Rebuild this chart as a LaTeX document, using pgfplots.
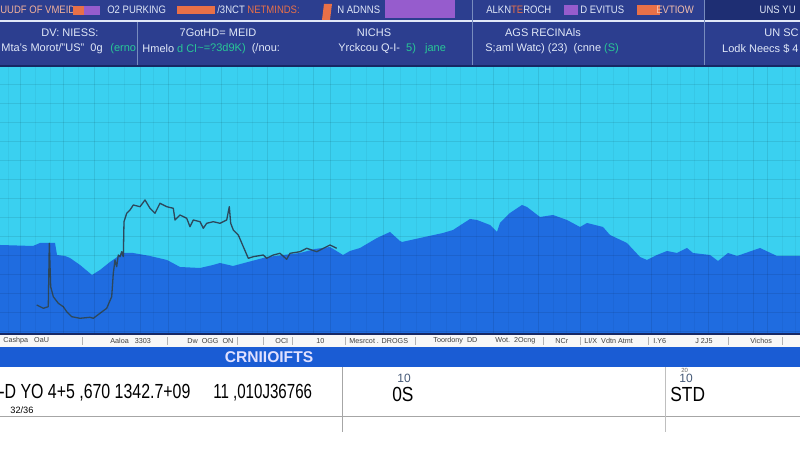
\documentclass[border=0pt]{standalone}
\usepackage{fontspec}
\setmainfont{Liberation Sans}
\usepackage{pgfplots}
\pgfplotsset{compat=1.18}

\definecolor{navy}{RGB}{44,62,143}
\definecolor{navyd}{RGB}{30,46,115}
\definecolor{navyl}{RGB}{22,40,100}
\definecolor{skyc}{RGB}{58,208,240}
\definecolor{areac}{RGB}{31,108,224}
\definecolor{barc}{RGB}{26,92,212}
\definecolor{linec}{RGB}{45,72,92}
\definecolor{orangec}{RGB}{232,112,72}
\definecolor{purplec}{RGB}{150,92,205}
\definecolor{greenc}{RGB}{40,200,150}
\definecolor{txtc}{RGB}{225,232,248}
\definecolor{sepc}{RGB}{120,140,190}
\definecolor{slateblue}{RGB}{70,90,120}

\begin{document}
\begin{tikzpicture}
\path[use as bounding box] (0,0) rectangle (400pt,227pt);

% header, in pixel units of the 800x454 picture
\begin{scope}[x=0.5pt,y=-0.5pt,yshift=227pt]
  \fill[white] (0,333) rectangle (800,454);
  \fill[navy] (0,0) rectangle (800,20);
  \fill[navyd] (705,0) rectangle (800,20);
  \fill[txtc] (0,20) rectangle (800,22);
  \fill[navy] (0,22) rectangle (800,65);
  \fill[navyl] (0,65) rectangle (800,67);

  \begin{scope}[every node/.style={inner sep=0pt,text=txtc,xscale=0.88,font=\fontsize{5.4}{6}\selectfont}]
    % legend row
    \node[anchor=west,text=orangec!55!white] at (0,10) {UUDF OF VMEID};
    \fill[orangec] (73,6) rectangle (84,15);
    \fill[purplec] (84,6) rectangle (100,15);
    \node[anchor=west] at (107,10) {O2 PURKING};
    \fill[orangec] (177,6) rectangle (215,14);
    \node[anchor=west] at (217,10) {/3NCT \textcolor{orangec}{NETMINDS:}};
    \fill[orangec] (324,4) -- (332,4) -- (330,20) -- (322,20) -- cycle;
    \node[anchor=west] at (337,10) {N ADNNS};
    \fill[purplec] (385,0) rectangle (455,18);
    \node[anchor=west] at (486,10) {ALKN\textcolor{orangec}{TE}ROCH};
    \fill[purplec] (564,5) rectangle (578,15);
    \node[anchor=west] at (580,10) {D EVITUS};
    \fill[orangec] (637,5) rectangle (660,15);
    \node[anchor=west,text=orangec!45!white] at (656,10) {EVTIOW};
    \node[anchor=east] at (796,10) {UNS YU};
  \end{scope}
  \begin{scope}[every node/.style={inner sep=0pt,text=txtc,font=\fontsize{5.5}{6}\selectfont}]
    % panel row
    \node at (70,33) {DV: NIESS:};
    \node[anchor=west] at (1,49) {Mta's Morot/"US"\ \ 0g};
    \node[anchor=west,text=greenc] at (110,49) {(erno};
    \node at (218,33) {7GotHD= MEID};
    \node[anchor=west] at (142,49) {Hmelo \textcolor{greenc}{d Cl}};
    \node[anchor=west] at (197,49) {\textcolor{greenc}{\textasciitilde=?3d9K)}\ \ (/nou:};
    \node at (374,33) {NICHS};
    \node[anchor=west] at (338,49) {Yrckcou Q-I-\ \ \textcolor{greenc}{5)}\ \ \ \textcolor{greenc}{jane}};
    \node at (543,33) {AGS RECINAls};
    \node[anchor=west] at (485,49) {S;aml Watc) (23) \ (cnne \textcolor{greenc}{(S)}};
    \node[anchor=east] at (799,33) {UN SC};
    \node[anchor=east] at (799,49) {Lodk Neecs \$ 4};
  \end{scope}
  \foreach \d in {472,704} \draw[sepc,line width=0.5pt] (\d,0) -- (\d,65);
  \draw[sepc,line width=0.5pt] (137,22) -- (137,65);
\end{scope}

\begin{axis}[at={(0pt,60.5pt)}, anchor=south west,
  width=400pt, height=133pt, scale only axis,
  xmin=0, xmax=800, ymin=0, ymax=266,
  axis line style={draw=none},
  axis background/.style={fill=skyc},
  axis on top,
  xtick={20,63,94,140,168,221,267,313,330,383,493,538,580,651,708,753,767},
  minor xtick={8,35,50,78,108,124,153,185,200,237,252,283,298,350,366,400,416,430,446,460,476,508,523,553,566,597,613,628,667,680,694,722,737,782,795},
  ytick={2,21,...,249},
  xticklabels={}, yticklabels={},
  tick style={draw=none},
  major tick length=0pt, minor tick length=0pt,
  xmajorgrids, xminorgrids, ymajorgrids,
  major grid style={draw=black,opacity=0.085,line width=0.45pt},
  minor grid style={draw=black,opacity=0.04,line width=0.35pt}]

% blue area
\addplot[fill=areac, draw=none] coordinates {
(0,88) (33,87) (40,90) (55,90) (57,78) (65,77) (70,75) (80,68) (92,58)
(100,63) (110,71) (123,80) (133,80) (150,77) (167,73) (180,66) (200,65)
(213,68) (220,70) (233,67) (248,71) (267,76) (300,80) (315,84) (330,86)
(343,78) (350,82) (360,85) (377,95) (390,101) (400,92) (402,91) (420,95)
(443,100) (453,103) (470,114) (477,113) (490,108) (497,101) (500,110)
(510,120) (522,128) (527,126) (540,116) (553,118) (567,113) (580,106)
(587,110) (603,106) (610,98) (627,90) (640,76) (647,73) (657,78) (667,82)
(677,80) (687,85) (693,80) (710,78) (718,72) (728,80) (737,77) (760,85)
(777,77) (800,77)
} \closedcycle;

% dark line
\addplot[linec, line width=0.65pt, line join=round] coordinates {
(36.7,28) (43.3,24.7) (48.3,26.3) (49.3,89.7) (50.7,46.3) (53.3,36.3)
(58.3,29.7) (63.3,26.3) (66.7,21.3) (71.7,16.3) (80,14.7) (90,15.7)
(93.3,14.7) (100,19.7) (106.7,24.7) (111.7,36.3) (113.3,59.7) (115,73)
(116.7,66.3) (118.3,78) (120,76.3) (121.7,81.3) (123.3,76.3) (124,111.3)
(126.7,119.7) (130,123) (133.3,128) (140,126.3) (145,133) (150,124.7)
(155,119.7) (160,129.7) (166.7,126.3) (173.3,124.7) (175,113) (180,118)
(186.7,114.7) (190,106.3) (193.3,113) (200,111.3) (203.3,104.7)
(206.7,109.7) (213.3,111.3) (220,109.7) (226.7,113) (229.3,126.3)
(230.7,109.7) (233.3,103) (238.3,98) (243.3,86.3) (248.3,74.7)
(253.3,76.3) (263.3,78) (266.7,74.7) (273.3,78) (280,79.7) (286.7,73.7)
(290,79.7) (300,81.3) (306.7,84.7) (316.7,81.3) (330,88) (336.7,84.7)
};
\end{axis}

% footer, in pixel units
\begin{scope}[x=0.5pt,y=-0.5pt,yshift=227pt]
  \fill[navyl] (0,333) rectangle (800,335);
  \fill[gray!6] (0,335) rectangle (800,347);
  \fill[barc] (0,347) rectangle (800,367);
  \begin{scope}[every node/.style={inner sep=0pt,text=black!75,font=\fontsize{3.6}{4}\selectfont}]
    \node[anchor=west] at (3,341) {Cashpa\ \ \ OaU};
    \node[anchor=west] at (110,341) {Aaloa\ \ \ 3303};
    \node[anchor=west] at (187,341) {Dw\ \ OGG\ \ ON};
    \node[anchor=west] at (275,341) {OCI};
    \node[anchor=west] at (316,341) {10};
    \node[anchor=west] at (349,341) {Mesrcot . DROGS};
    \node[anchor=west] at (433,341) {Toordony\ \ DD};
    \node[anchor=west] at (495,341) {Wot.\ \ 2Ocng};
    \node[anchor=west] at (555,341) {NCr};
    \node[anchor=west] at (584,341) {LI/X\ \ Vdtn Atmt};
    \node[anchor=west] at (653,341) {I.Y6};
    \node[anchor=west] at (695,341) {J 2J5};
    \node[anchor=west] at (750,341) {Vichos};
  \end{scope}
  \foreach \s in {82,167,237,263,292,345,415,543,580,648,728,782}
    \draw[gray!60,line width=0.3pt] (\s,337) -- (\s,345);
  \node[inner sep=0pt,text=blue!12!white,font=\fontsize{7.8}{8}\selectfont\bfseries] at (269,357) {CRNIIOIFTS};

  \draw[gray!70,line width=0.5pt] (0,417) -- (800,417);
  \draw[gray!70,line width=0.5pt] (342,367) -- (342,432);
  \draw[gray!50,line width=0.5pt] (665,367) -- (665,432);

  \node[anchor=west,inner sep=0pt,xscale=0.78,font=\fontsize{10.2}{11}\selectfont] at (-1,393) {-D YO 4+5 ,670 1342.7+09};
  \node[anchor=west,inner sep=0pt,font=\fontsize{4.6}{5}\selectfont\rmfamily] at (10,410) {32/36};
  \node[anchor=west,inner sep=0pt,xscale=0.74,font=\fontsize{10.2}{11}\selectfont] at (213,393) {11 ,010J36766};
  \node[anchor=west,inner sep=0pt,text=slateblue,font=\fontsize{6}{7}\selectfont] at (397,378) {10};
  \node[anchor=west,inner sep=0pt,xscale=0.85,font=\fontsize{10.2}{11}\selectfont] at (392,394) {0S};
  \node[anchor=west,inner sep=0pt,text=black!60,font=\fontsize{3}{3}\selectfont] at (681,370) {20};
  \node[anchor=west,inner sep=0pt,text=slateblue,font=\fontsize{6}{7}\selectfont] at (679,378) {10};
  \node[anchor=west,inner sep=0pt,xscale=0.85,font=\fontsize{10.2}{11}\selectfont] at (670,394) {STD};
\end{scope}
\end{tikzpicture}
\end{document}
